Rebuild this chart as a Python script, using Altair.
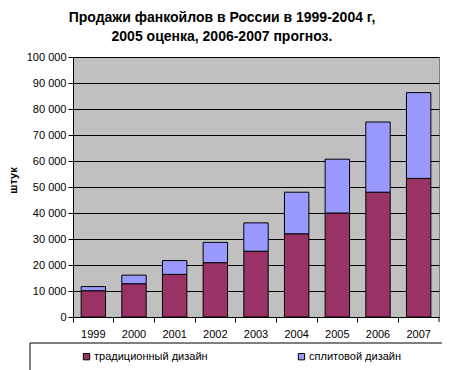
import altair as alt
import pandas as pd

years = ["1999", "2000", "2001", "2002", "2003", "2004", "2005", "2006", "2007"]
traditional = [10100, 12800, 16400, 20900, 25300, 32000, 40000, 48000, 53300]
split = [1600, 3300, 5300, 7800, 10900, 16000, 20700, 27000, 33000]
series = ["традиционный дизайн", "сплитовой дизайн"]
colors = ["#993366", "#9999FF"]

rows = []
for i, y in enumerate(years):
    rows.append({"year": y, "series": series[0], "value": traditional[i], "ord": 0})
    rows.append({"year": y, "series": series[1], "value": split[i], "ord": 1})
df = pd.DataFrame(rows)

FONT = "Liberation Sans"
W, H = 366, 260

bars = alt.Chart(df).mark_bar(
    width=alt.RelativeBandSize(0.6), stroke="black", strokeWidth=1
).encode(
    x=alt.X("year:N", title=None, sort=years,
            scale=alt.Scale(paddingInner=0, paddingOuter=0),
            axis=alt.Axis(bandPosition=0, labelAngle=0,
                          tickSize=5, tickColor="black", domainColor="black",
                          labelPadding=6, labelFont=FONT, labelFontSize=11,
                          labelColor="black", grid=False)),
    y=alt.Y("value:Q", stack="zero",
            scale=alt.Scale(domain=[0, 100000]),
            axis=alt.Axis(title="штук", values=list(range(0, 100001, 10000)),
                          labelExpr="replace(format(datum.value, ','), ',', ' ')",
                          tickSize=5, tickColor="black", domainColor="black",
                          gridColor="black", gridWidth=1, labelPadding=2,
                          labelFont=FONT, labelFontSize=11, labelColor="black",
                          titleFont=FONT, titleFontSize=11, titleFontWeight="bold",
                          titleColor="black", titleX=-60, titleY=123,
                          titleBaseline="middle", titleAngle=-90)),
    color=alt.Color("series:N", scale=alt.Scale(domain=series, range=colors),
                    legend=alt.Legend(title=None, orient="none", direction="horizontal",
                                      legendX=8, legendY=294, symbolType="square",
                                      symbolSize=40, symbolStrokeColor="black",
                                      symbolStrokeWidth=1, labelFont=FONT,
                                      labelFontSize=11, labelColor="black",
                                      labelOffset=2, columnPadding=88, padding=0)),
    order=alt.Order("ord:Q"),
)

one = pd.DataFrame({"k": [0]})
frame = alt.Chart(one).mark_rect(fill=None, stroke="black", strokeWidth=1).encode(
    x=alt.value(-43), x2=alt.value(372), y=alt.value(286), y2=alt.value(340)
)
end_tick = alt.Chart(one).mark_rule(color="black", strokeWidth=1).encode(
    x=alt.value(W), y=alt.value(H), y2=alt.value(H + 5)
)

chart = alt.layer(bars, frame, end_tick).properties(
    width=W, height=H,
    autosize=alt.AutoSizeParams(type="none"),
    padding={"left": 65, "top": 49, "right": 3, "bottom": 62},
    background="white",
    title=alt.Title(["Продажи фанкойлов в России в 1999-2004 г,",
                     "2005 оценка, 2006-2007 прогноз."],
                    font=FONT, fontSize=14, fontWeight="bold", color="black",
                    anchor="middle", dx=-34, offset=7, lineHeight=19),
).configure_view(fill="#C0C0C0", stroke="#808080")

chart.save("out.html", embed_options={"renderer": "svg", "actions": False})
